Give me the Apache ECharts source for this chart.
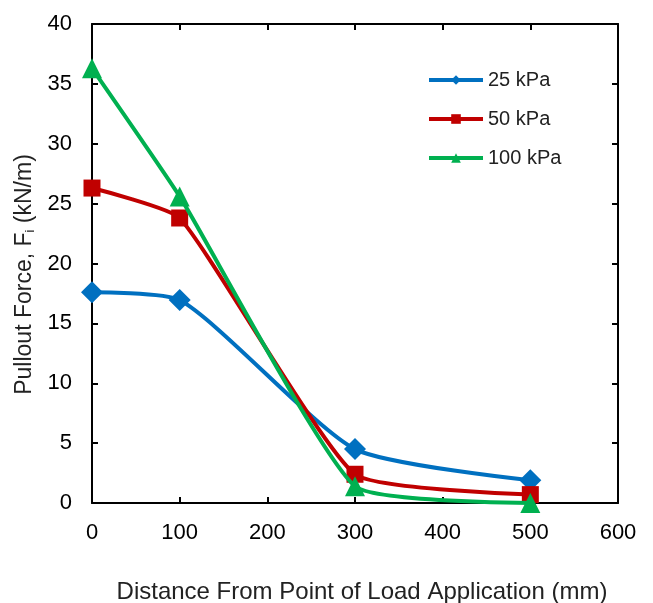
<!DOCTYPE html>
<html><head><meta charset="utf-8">
<script src="https://cdn.jsdelivr.net/npm/echarts@6/dist/echarts.min.js"></script>
<style>html,body{margin:0;padding:0;background:#fff}#c{width:653px;height:603px}</style>
</head><body><div id="c"></div>
<script>
const distances = [0, 100, 300, 500];
const seriesNames = ['25 kPa', '50 kPa', '100 kPa'];
const force25 = [17.6, 16.95, 4.5, 1.9];
const force50 = [26.3, 23.8, 2.4, 0.7];
const force100 = [36.3, 25.6, 1.4, 0.0];
const xTicks = [0, 100, 200, 300, 400, 500, 600];
const yTicks = [0, 5, 10, 15, 20, 25, 30, 35, 40];

const colors = ['#0070C0', '#C00000', '#00B050'];
const symbols = ['diamond', 'rect', 'triangle'];
const symbolSizes = [22, 17, 20];
const smoothness = [0.2, 0.15, 0.15];
const allData = [force25, force50, force100];

const FONT = 'Liberation Sans, Arial, sans-serif';
const chart = echarts.init(document.getElementById('c'));
const axisLine = {show: true, onZero: false, lineStyle: {color: '#000', width: 2}};
const axisTick = {show: true, inside: true, length: 6, lineStyle: {color: '#000', width: 2}};
chart.setOption({
  animation: false,
  grid: {left: 92, top: 24, right: 35, bottom: 100, containLabel: false, outerBoundsMode: 'none'},
  legend: {
    orient: 'vertical', left: 427, top: 70, itemGap: 19, padding: 0,
    itemWidth: 54, itemHeight: 12,
    lineStyle: {width: 4},
    textStyle: {fontFamily: FONT, fontSize: 20, color: '#222'},
    data: seriesNames
  },
  xAxis: [{
    type: 'value', min: xTicks[0], max: xTicks[xTicks.length - 1], interval: 100,
    axisLine, axisTick, splitLine: {show: false},
    axisLabel: {fontFamily: FONT, fontSize: 22, color: '#000', margin: 19},
    name: 'Distance From Point of Load Application (mm)', nameLocation: 'middle', nameGap: 77,
    nameTextStyle: {fontFamily: FONT, fontSize: 24, color: '#222', padding: [0, 0, 0, 14]}
  }, {
    type: 'value', position: 'top', min: 0, max: 600, interval: 100,
    axisLine, axisTick, axisLabel: {show: false}, splitLine: {show: false}
  }],
  yAxis: [{
    type: 'value', min: yTicks[0], max: yTicks[yTicks.length - 1], interval: 5,
    axisLine, axisTick, splitLine: {show: false},
    axisLabel: {fontFamily: FONT, fontSize: 22, color: '#000', margin: 20},
    name: '{t|Pullout Force, F}{s|i}{t| (kN/m)}', nameLocation: 'middle', nameGap: 50,
    nameTextStyle: {
      fontFamily: FONT, fontSize: 23, color: '#222', padding: [0, 22, 0, 0],
      rich: {t: {fontFamily: FONT, fontSize: 23, color: '#222'}, s: {fontFamily: FONT, fontSize: 13, color: '#222', verticalAlign: 'bottom', padding: [10, 0, 0, 0]}}
    }
  }, {
    type: 'value', position: 'right', min: 0, max: 40, interval: 5,
    axisLine, axisTick, axisLabel: {show: false}, splitLine: {show: false}
  }],
  series: seriesNames.map((n, i) => ({
    name: n, type: 'line', smooth: smoothness[i],
    data: distances.map((d, j) => [d, allData[i][j]]),
    symbol: symbols[i], symbolSize: symbolSizes[i],
    lineStyle: {color: colors[i], width: 4},
    itemStyle: {color: colors[i]},
    clip: false, z: 2 + i
  }))
});
</script></body></html>
